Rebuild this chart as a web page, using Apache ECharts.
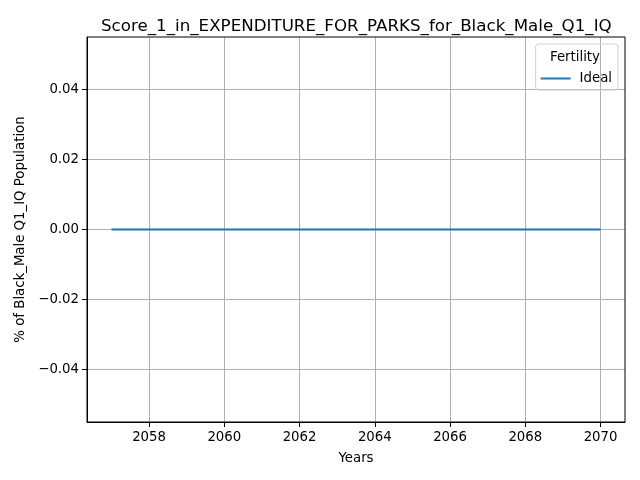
<!DOCTYPE html>
<html lang="en">
<head>
    <meta charset="UTF-8">
    <title>Score chart</title>
    <script src="https://cdn.jsdelivr.net/npm/echarts@6/dist/echarts.min.js"></script>
    <style>
        body, html { padding: 0; margin: 0; background: #fff; }
    </style>
</head>
<body>
    <div style="width:640px;height:480px;" id="chart"></div>
    <script>
        // data
        var years = [2057, 2058, 2059, 2060, 2061, 2062, 2063, 2064, 2065, 2066, 2067, 2068, 2069, 2070];
        var ideal = [0, 0, 0, 0, 0, 0, 0, 0, 0, 0, 0, 0, 0, 0];
        var xTicks = [2058, 2060, 2062, 2064, 2066, 2068, 2070];
        var yTicks = [-0.04, -0.02, 0, 0.02, 0.04];

        var font = 'DejaVu Sans';
        var myChart = echarts.init(document.getElementById('chart'));

        myChart.setOption({
            animation: false,
            backgroundColor: '#fff',
            title: [{
                text: 'Score_1_in_EXPENDITURE_FOR_PARKS_for_Black_Male_Q1_IQ',
                left: 96,
                top: 13,
                textStyle: { fontFamily: font, fontSize: 16.7, fontWeight: 'normal', color: '#000' }
            }, {
                text: 'Fertility',
                left: 545,
                top: 46,
                textStyle: { fontFamily: font, fontSize: 13.3, fontWeight: 'normal', color: '#000' }
            }],
            legend: {
                right: 22,
                top: 44,
                orient: 'vertical',
                padding: [28, 6, 5, 5],
                borderColor: '#d0d0d0',
                borderWidth: 1,
                borderRadius: 3,
                itemWidth: 30,
                itemHeight: 2,
                itemGap: 8,
                icon: 'rect',
                textStyle: { fontFamily: font, fontSize: 13.3, color: '#000', padding: [0, 0, 0, 4] },
                data: ['Ideal']
            },
            grid: { left: 87, right: 15, top: 37, bottom: 58 },
            xAxis: {
                type: 'value',
                min: 2056.35,
                max: 2070.65,
                name: 'Years',
                nameLocation: 'middle',
                nameGap: 30,
                nameTextStyle: { fontFamily: font, fontSize: 13.3, color: '#000' },
                axisLine: { onZero: false, lineStyle: { color: '#000', width: 1 } },
                axisTick: { show: true, length: 5, customValues: xTicks, lineStyle: { color: '#000' } },
                axisLabel: {
                    customValues: xTicks, fontFamily: font, fontSize: 13.3, color: '#000', margin: 9,
                    formatter: function (v) { return String(Math.round(v)); }
                },
                splitLine: { show: true, lineStyle: { color: '#b0b0b0', width: 1 } }
            },
            yAxis: {
                type: 'value',
                min: -0.055,
                max: 0.055,
                name: '% of Black_Male Q1_IQ Population',
                nameLocation: 'middle',
                nameGap: 59,
                nameTextStyle: { fontFamily: font, fontSize: 13.3, color: '#000' },
                axisLine: { show: true, onZero: false, lineStyle: { color: '#000', width: 1 } },
                axisTick: { show: true, length: 5, customValues: yTicks, lineStyle: { color: '#000' } },
                axisLabel: {
                    customValues: yTicks,
                    fontFamily: font, fontSize: 13.3, color: '#000', margin: 8,
                    formatter: function (v) {
                        var s = Math.abs(v).toFixed(2);
                        return v < -1e-9 ? '\u2212' + s : s;
                    }
                },
                splitLine: { show: true, lineStyle: { color: '#b0b0b0', width: 1 } }
            },
            graphic: [{
                type: 'rect',
                shape: { x: 87, y: 37, width: 538, height: 385 },
                style: { fill: 'none', stroke: '#000', lineWidth: 1 },
                silent: true,
                z: 10
            }],
            series: [{
                name: 'Ideal',
                type: 'line',
                data: years.map(function (y, i) { return [y, ideal[i]]; }),
                showSymbol: false,
                lineStyle: { color: '#1f77b4', width: 2 },
                itemStyle: { color: '#1f77b4' }
            }]
        });
    </script>
</body>
</html>
